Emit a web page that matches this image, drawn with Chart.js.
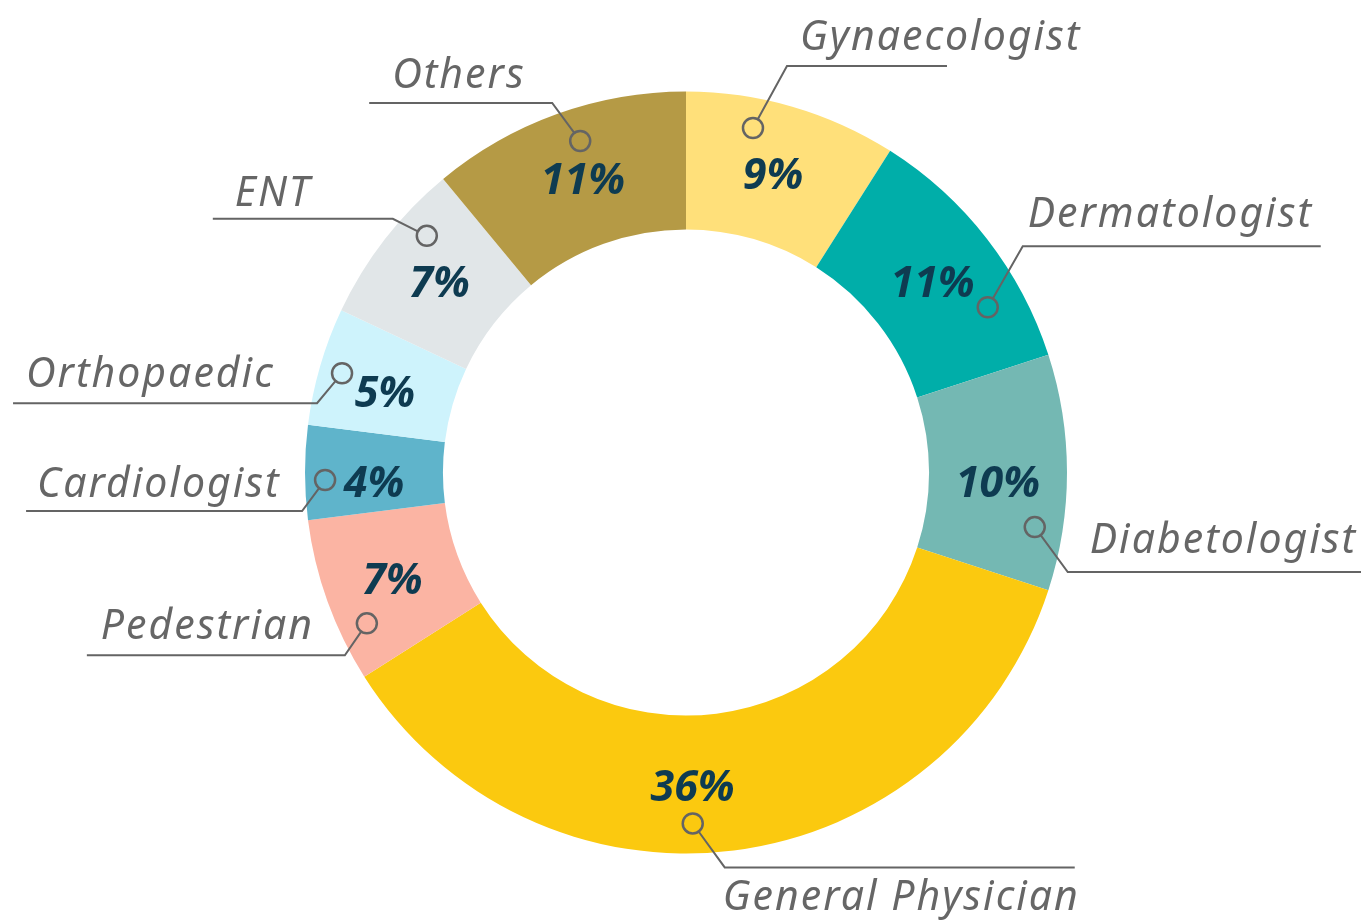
<!DOCTYPE html>
<html><head><meta charset="utf-8">
<script src="https://cdn.jsdelivr.net/npm/chart.js@4/dist/chart.umd.min.js"></script>
<style>html,body{margin:0;padding:0;background:#fff}#wrap{width:1361px;height:920px;position:relative}</style>
</head><body><div id="wrap"><canvas id="c"></canvas></div>
<script>
const categories = ['Gynaecologist','Dermatologist','Diabetologist','General Physician','Pedestrian','Cardiologist','Orthopaedic','ENT','Others'];
const shares = [9, 11, 10, 36, 7, 4, 5, 7, 11];
const sliceColors = ['#FFE07A','#00AEA9','#74B8B3','#FBC90F','#FBB4A3','#5FB4CB','#CEF3FC','#E1E6E8','#B59A45'];

// leader-line layout (angle shift in degrees from slice middle, radius of anchor ring,
// elbow offset from anchor, side of horizontal rule, rule length, text offset)
const leaderLayout = [
  {shift:-5.2, r:351, ex:34,  ey:-62, side:1,  len:160, tx:13, ty:-16},
  {shift:9.1,  r:344, ex:35,  ey:-61, side:1,  len:298, tx:5,  ty:-19},
  {shift:8.9,  r:353, ex:33,  ey:45,  side:1,  len:295, tx:22, ty:-19},
  {shift:6.1,  r:351, ex:32,  ey:44,  side:1,  len:350, tx:-2, ty:43},
  {shift:-5.5, r:353, ex:-22, ey:32,  side:-1, len:258, tx:14, ty:-16},
  {shift:-1.2, r:361, ex:-23, ey:31,  side:-1, len:276, tx:11, ty:-14},
  {shift:-0.1, r:358, ex:-25, ey:30,  side:-1, len:304, tx:13, ty:-16},
  {shift:4.6,  r:351, ex:-34, ey:-17, side:-1, len:180, tx:22, ty:-13},
  {shift:2.1,  r:348, ex:-28, ey:-38, side:-1, len:183, tx:23, ty:-15}
];
const pctShift = [0, 0, 1.5, 6, 0, -1.5, -1, 0, 0.5];

const labelPlugin = {
  id: 'labels',
  afterDatasetsDraw(chart) {
    const ctx = chart.ctx;
    const meta = chart.getDatasetMeta(0);
    const ds = chart.data.datasets[0];
    meta.data.forEach((arc, i) => {
      const p = arc.getProps(['x','y','startAngle','endAngle','innerRadius','outerRadius'], true);
      const mid = (p.startAngle + p.endAngle) / 2;
      const pa = mid + pctShift[i] * Math.PI / 180;
      const pr = (p.innerRadius + p.outerRadius) / 2;
      ctx.save();
      ctx.font = "italic 700 43px 'Noto Sans'";
      ctx.fillStyle = '#0E3B51';
      ctx.textAlign = 'center';
      ctx.textBaseline = 'middle';
      ctx.fillText(ds.data[i] + '%', p.x + pr * Math.cos(pa), p.y + pr * Math.sin(pa) + 4);
      ctx.restore();
      const L = leaderLayout[i];
      const aa = mid + L.shift * Math.PI / 180;
      const ax = p.x + L.r * Math.cos(aa), ay = p.y + L.r * Math.sin(aa);
      const cr = 10;
      const bx = ax + L.ex, by = ay + L.ey;
      const vx = bx - ax, vy = by - ay, vl = Math.hypot(vx, vy);
      const sx = ax + vx / vl * cr, sy = ay + vy / vl * cr;
      const endX = bx + L.side * L.len;
      ctx.save();
      ctx.strokeStyle = '#646464';
      ctx.lineWidth = 2;
      ctx.beginPath();
      ctx.moveTo(sx, sy);
      ctx.lineTo(bx, by);
      ctx.lineTo(endX, by);
      ctx.stroke();
      ctx.lineWidth = 2.5;
      ctx.beginPath();
      ctx.arc(ax, ay, cr, 0, Math.PI * 2);
      ctx.stroke();
      const left = Math.min(bx, endX);
      ctx.font = "italic 400 41px 'Noto Sans'";
      ctx.letterSpacing = '2px';
      ctx.fillStyle = '#666666';
      ctx.textAlign = 'left';
      ctx.textBaseline = 'alphabetic';
      ctx.fillText(chart.data.labels[i], left + L.tx, by + L.ty);
      ctx.restore();
    });
  }
};

new Chart(document.getElementById('c'), {
  type: 'doughnut',
  data: {
    labels: categories,
    datasets: [{ data: shares, backgroundColor: sliceColors, borderWidth: 0 }]
  },
  options: {
    responsive: true,
    maintainAspectRatio: false,
    animation: false,
    cutout: '63.8%',
    layout: { padding: { top: 91, bottom: 66, left: 305, right: 294 } },
    plugins: { legend: { display: false }, tooltip: { enabled: false } }
  },
  plugins: [labelPlugin]
});
</script>
</body></html>
